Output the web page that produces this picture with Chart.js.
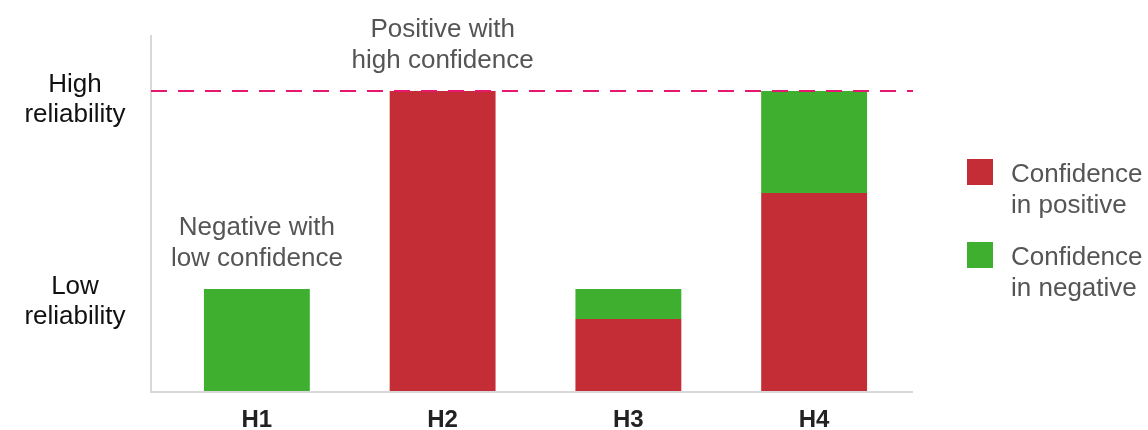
<!DOCTYPE html>
<html><head><meta charset="utf-8">
<script src="https://cdn.jsdelivr.net/npm/chart.js@4/dist/chart.umd.min.js"></script>
<style>html,body{margin:0;padding:0;background:#fff}#wrap{width:1148px;height:430px;position:relative}</style>
</head><body><div id="wrap"><canvas id="c" width="1148" height="430"></canvas></div>
<script>
const categories = ['H1', 'H2', 'H3', 'H4'];
const positiveValues = [0, 100, 24, 66];
const negativeValues = [34, 0, 10, 34];
const seriesNames = [['Confidence', 'in positive'], ['Confidence', 'in negative']];
const reliabilityLevels = [34, 100];
const reliabilityLabels = [['Low', 'reliability'], ['High', 'reliability']];
const annotationTexts = [['Negative with', 'low confidence'], ['Positive with', 'high confidence']];
const annotationIndex = [0, 1];
const yMax = 118.7;

const RED = '#c42d35', GREEN = '#3eaf2e', FONT = '"Liberation Sans", Arial, sans-serif';

const deco = {
  id: 'deco',
  beforeDatasetsDraw(chart) {
    const {ctx, chartArea: a} = chart;
    ctx.save();
    ctx.strokeStyle = '#d8d8d8'; ctx.lineWidth = 2;
    ctx.beginPath();
    ctx.moveTo(a.left - 13, a.top); ctx.lineTo(a.left - 13, a.bottom + 1);
    ctx.moveTo(a.left - 14, a.bottom + 1); ctx.lineTo(a.right + 6, a.bottom + 1);
    ctx.stroke();
    ctx.restore();
  },
  afterDatasetsDraw(chart) {
    const {ctx, chartArea: a, scales: {x, y}} = chart;
    ctx.save();
    const hy = y.getPixelForValue(reliabilityLevels[1]);
    ctx.strokeStyle = '#e5176f'; ctx.lineWidth = 2; ctx.setLineDash([16, 11]);
    ctx.beginPath(); ctx.moveTo(a.left - 13, hy); ctx.lineTo(a.right + 6, hy); ctx.stroke();
    ctx.setLineDash([]);
    ctx.font = '26px ' + FONT; ctx.fillStyle = '#111'; ctx.textAlign = 'center'; ctx.textBaseline = 'alphabetic';
    reliabilityLevels.forEach((v, i) => {
      const py = y.getPixelForValue(v);
      const off = i === 0 ? 5 : 1;
      reliabilityLabels[i].forEach((t, j) => ctx.fillText(t, a.left - 89, py + off + j * 30));
    });
    ctx.fillStyle = '#555';
    annotationIndex.forEach((ci, i) => {
      const px = x.getPixelForValue(ci);
      const total = positiveValues[ci] + negativeValues[ci];
      const py = y.getPixelForValue(total);
      annotationTexts[i].forEach((t, j) => ctx.fillText(t, px, py - 54 + j * 31));
    });
    ctx.textAlign = 'left';
    const colors = [RED, GREEN];
    seriesNames.forEach((lines, i) => {
      const top = 159 + i * 83;
      ctx.fillStyle = colors[i];
      ctx.fillRect(a.right + 60, top, 26, 26);
      ctx.fillStyle = '#555';
      lines.forEach((t, j) => ctx.fillText(t, a.right + 104, top + 23 + j * 31));
    });
    ctx.restore();
  }
};

new Chart(document.getElementById('c'), {
  type: 'bar',
  data: {
    labels: categories,
    datasets: [
      {label: seriesNames[0].join(' '), data: positiveValues, backgroundColor: RED, borderWidth: 0},
      {label: seriesNames[1].join(' '), data: negativeValues, backgroundColor: GREEN, borderWidth: 0}
    ]
  },
  options: {
    responsive: false, animation: false,
    layout: {padding: {left: 164, right: 241, top: 35, bottom: -19}},
    datasets: {bar: {barPercentage: 0.57, categoryPercentage: 1}},
    plugins: {legend: {display: false}, tooltip: {enabled: false}},
    scales: {
      x: {stacked: true, grid: {display: false, drawTicks: false}, border: {display: false},
          ticks: {padding: 17, color: '#222', font: {family: FONT, size: 24, weight: 'bold', lineHeight: 1}}},
      y: {stacked: true, display: false, min: 0, max: yMax}
    }
  },
  plugins: [deco]
});
</script></body></html>
